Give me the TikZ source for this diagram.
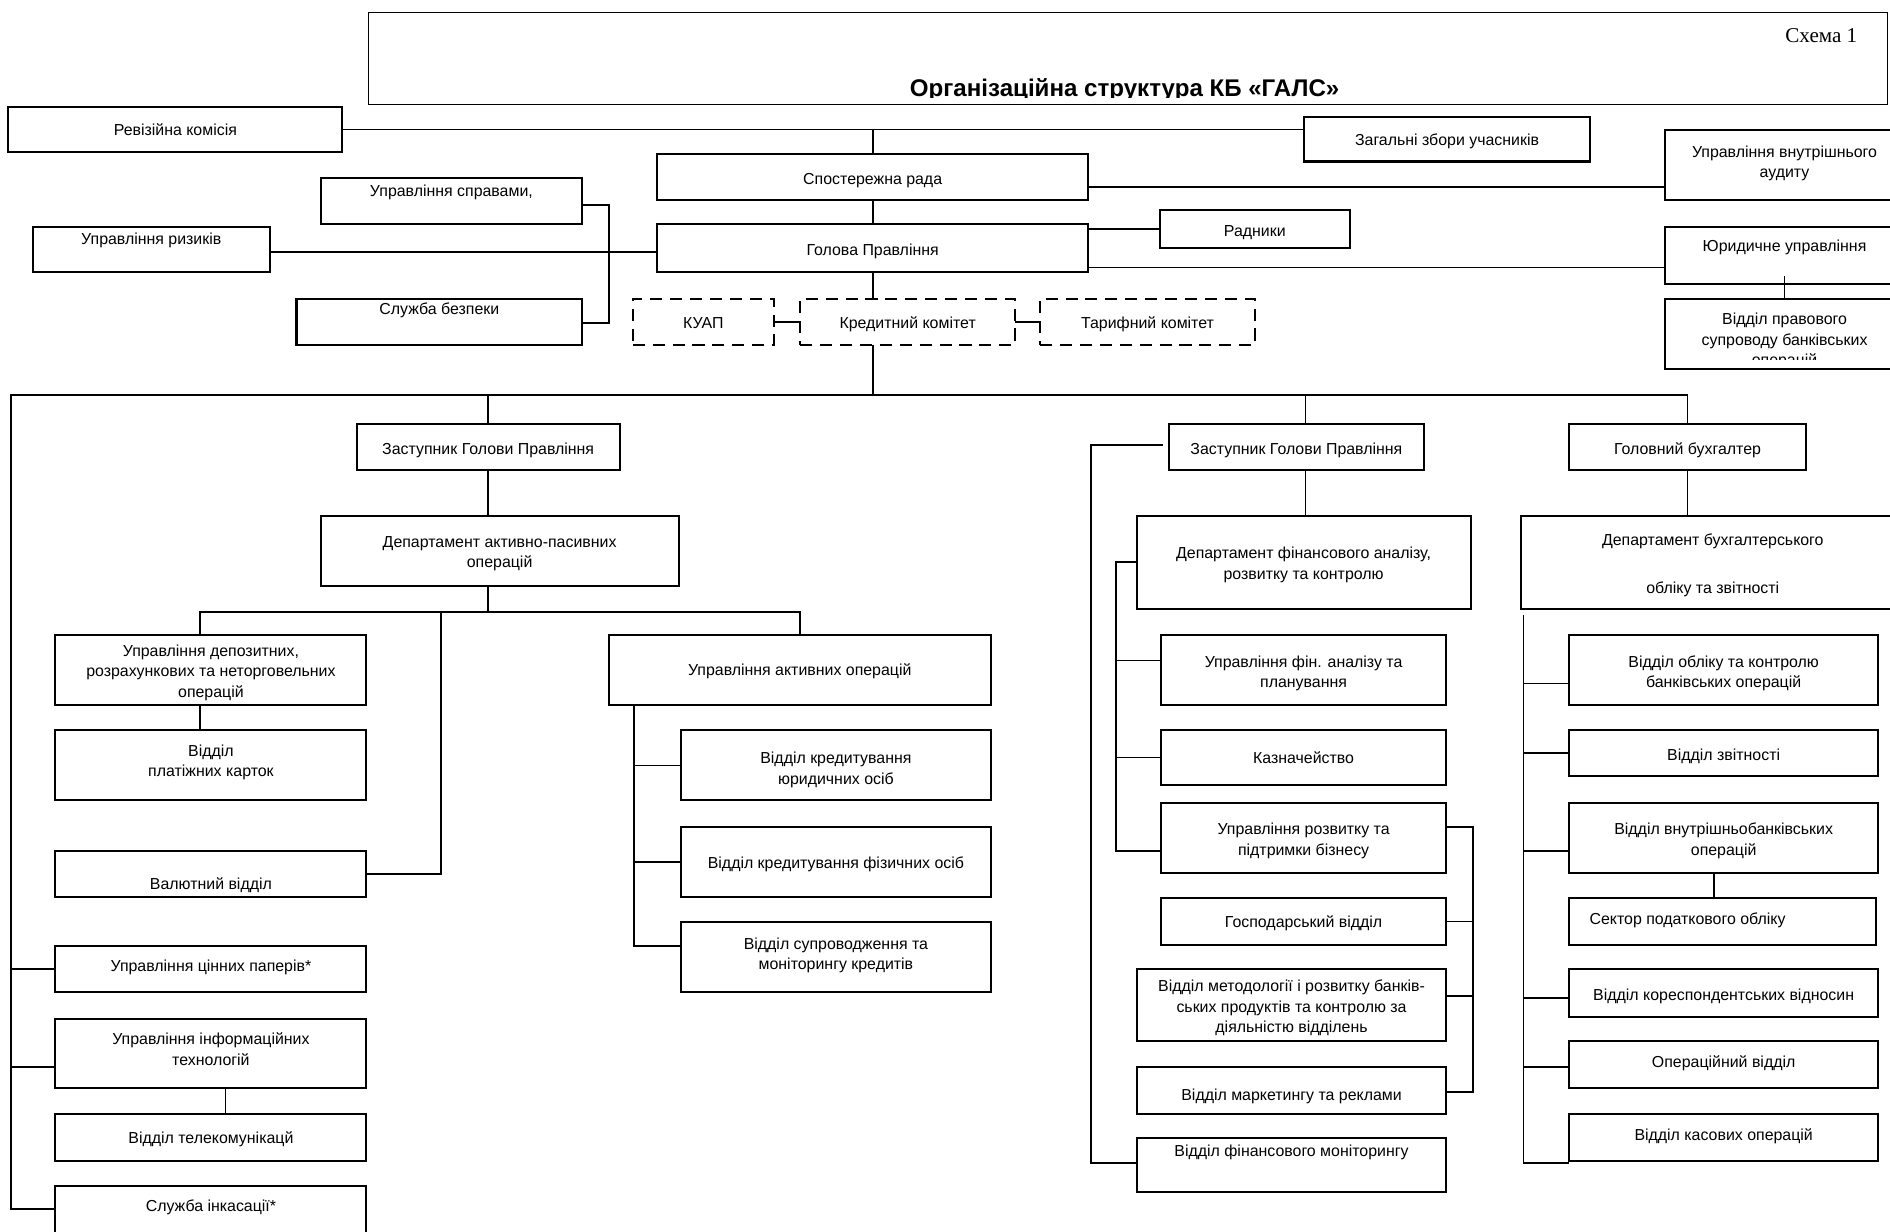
\documentclass[tikz,border=0pt]{standalone}
\usepackage{fontspec}
\setmainfont{Liberation Sans}
\newfontfamily\serifcap{Liberation Serif}
\newcommand\bx[8][box]{%
 \pgfmathsetmacro\bw{#5-#3}%
 \pgfmathsetmacro\bh{#6-#4}%
 \pgfmathsetmacro\bcx{(#3+#5)/2}%
 \pgfmathsetmacro\bty{#7-7.3}%
 \node[#1,minimum width=\bw pt,minimum height=\bh pt] (#2) at (#3,#4) {};
 \node[txt] (#2-t) at (\bcx,\bty) {#8};}
\begin{document}
\begin{tikzpicture}[x=1pt,y=-1pt,
  box/.style={draw,line width=1.7pt,anchor=north west,inner sep=0pt,outer sep=0pt},
  dbox/.style={box,dash pattern=on 10pt off 6.5pt},
  txt/.style={align=center,inner sep=0pt,anchor=north,font=\fontsize{13.2}{17}\selectfont,execute at begin node=\strut},
  ln/.style={line width=1.5pt}]
\useasboundingbox[fill=white] (0,0) rectangle (1568,1022);

% title
\node[box,line width=0.9pt,minimum width=1260pt,minimum height=77pt] (tbox) at (306,10) {};
\node[anchor=base east,inner sep=0pt,font=\serifcap\fontsize{17.5}{20}\selectfont] (schema) at (1541,35) {Схема 1};
\begin{scope}
\clip (307,11) rectangle (1565,81);
\node[anchor=base,inner sep=0pt,font=\bfseries\fontsize{20}{22}\selectfont] (ttl) at (933,80) {Організаційна структура КБ «ГАЛС»};
\end{scope}

% top level
\bx{rev}{7}{89}{284}{126}{108}{Ревізійна комісія}
\bx{zag}{1082}{97}{1319}{134}{116}{Загальні збори учасників}
\bx{spos}{545}{128}{903}{166}{148}{Спостережна рада}
\bx{audit}{1381}{108}{1580}{166}{128}{Управління внутрішнього\\аудиту}
\bx{sprav}{266}{148}{483}{186}{158}{Управління справами,}
\bx{riz}{27}{188}{224}{226}{198}{Управління ризиків}
\bx{gol}{545}{186}{903}{226}{207}{Голова Правління}
\bx{radn}{962}{174}{1120}{206}{191}{Радники}
\bx{yur}{1381}{188}{1580}{236}{204}{Юридичне управління}
\bx{sluzh}{246}{248}{483}{286}{256}{Служба безпеки}
\bx[dbox]{kuap}{525}{248}{642}{286}{268}{КУАП}
\bx[dbox]{kred}{664}{248}{842}{286}{268}{Кредитний комітет}
\bx[dbox]{tar}{863}{248}{1041}{286}{268}{Тарифний комітет}
\node[box,minimum width=199pt,minimum height=58pt] (prav) at (1381,248) {};
\begin{scope}
\clip (1382,249) rectangle (1579,298);
\node[txt] (prav-t) at (1480.5,259.7) {Відділ правового\\супроводу банківських\\операцій};
\end{scope}

% second level
\bx{zl}{296}{352}{514}{390}{372}{Заступник Голови Правління}
\bx{zr}{970}{352}{1181}{390}{372}{Заступник Голови Правління}
\bx{bux}{1302}{352}{1498}{390}{372}{Головний бухгалтер}
\bx{depap}{266}{428}{563}{486}{452}{Департамент активно-пасивних\\операцій}
\bx{depf}{943}{428}{1220}{505}{461}{Департамент фінансового аналізу,\\розвитку та контролю}
\bx{depb}{1262}{428}{1580}{505}{450}{Департамент бухгалтерського\\[23pt]обліку та звітності}

% left branch
\bx{dep}{46}{527}{304}{585}{542}{Управління депозитних,\\розрахункових та неторговельних\\операцій}
\bx{plat}{46}{606}{304}{664}{625}{Відділ\\платіжних карток}
\bx{val}{46}{706}{304}{744}{733}{Валютний відділ}
\bx{cin}{46}{785}{304}{823}{801}{Управління цінних паперів*}
\bx{it}{46}{845}{304}{903}{864}{Управління інформаційних\\технологій}
\bx{tel}{46}{924}{304}{963}{944}{Відділ телекомунікацй}
\bx{insk}{46}{984}{304}{1030}{1000}{Служба інкасації*}
\bx{akt}{505}{527}{822}{585}{556}{Управління активних операцій}
\bx{kyur}{565}{606}{822}{664}{631}{Відділ кредитування\\юридичних осіб}
\bx{kfiz}{565}{686}{822}{744}{716}{Відділ кредитування фізичних осіб}
\bx{sup}{565}{765}{822}{823}{785}{Відділ супроводження та\\моніторингу кредитів}

% right deputy
\bx{ufin}{963}{527}{1200}{585}{551}{Управління фін. аналізу та\\планування}
\bx{kaz}{963}{606}{1200}{651}{629}{Казначейство}
\bx{urozv}{963}{666}{1200}{724}{690}{Управління розвитку та\\підтримки бізнесу}
\bx{gosp}{963}{745}{1200}{784}{765}{Господарський відділ}
\bx{metod}{943}{804}{1200}{864}{820}{Відділ методології і розвитку банків-\\ських продуктів та контролю за\\діяльністю відділень}
\bx{mark}{943}{885}{1200}{924}{908}{Відділ маркетингу та реклами}
\bx{fmon}{943}{944}{1200}{989}{955}{Відділ фінансового моніторингу}

% accountant
\bx{obl}{1302}{527}{1558}{585}{551}{Відділ обліку та контролю\\банківських операцій}
\bx{zvit}{1302}{606}{1558}{644}{626}{Відділ звітності}
\bx{vnutr}{1302}{666}{1558}{724}{690}{Відділ внутрішньобанківських\\операцій}
\node[box,minimum width=254pt,minimum height=39pt] (sekt) at (1302,745) {};
\node[txt] (sekt-t) at (1400,754.7) {Сектор податкового обліку};
\bx{kor}{1302}{804}{1558}{844}{825}{Відділ кореспондентських відносин}
\bx{oper}{1302}{864}{1558}{903}{881}{Операційний відділ}
\bx{kas}{1302}{924}{1558}{963}{941}{Відділ касових операцій}

% connectors top
\draw[ln] (rev.east) -- (zag.west |- rev.east);
\draw[ln] (spos.north) -- (spos.north |- rev.east);
\draw[ln] (spos.south) -- (gol.north);
\draw[ln] (spos.east |- 0,155) -- (audit.west |- 0,155);
\draw[ln] (gol.east |- radn.west) -- (radn.west);
\draw[ln] (gol.east |- 0,222) -- (yur.west |- 0,222);
\draw[ln] ([yshift=7pt]yur.south) -- (prav.north);
\draw[ln] (riz.east |- 0,209) -- (gol.west |- 0,209);
\draw[ln] (sprav.east |- 0,170) -- ++(22,0) |- (sluzh.east |- 0,268);
\draw[ln] (gol.south) -- (gol.south |- kred.north);
\draw[ln] (kuap.east) -- (kred.west);
\draw[ln] (kred.east) -- (tar.west);
\draw[ln] (gol.south |- kred.south) -- (gol.south |- 0,328);

% main bus
\coordinate (busL) at (9,328);
\draw[ln] (bux.north) -- (bux.north |- busL) -- (busL) |- (insk.west |- 0,1003);
\draw[ln] (busL |- cin.west) -- (cin.west);
\draw[ln] (busL |- 0,885) -- (it.west |- 0,885);
\draw[ln] (zl.north) -- (zl.north |- busL);
\draw[ln] (zr.north -| 1083,0) -- (1083,328);

% left deputy
\draw[ln] (zl.south) -- (zl.south |- depap.north);
\draw[ln] (zl.south |- depap.south) -- (zl.south |- 0,508);
\draw[ln] (dep.north -| 166,0) -- (166,508) -- (akt.north |- 0,508) -- (akt.north);
\draw[ln] (366,508) |- (val.east);
\draw[ln] (dep.south -| 166,0) -- (plat.north -| 166,0);
\draw[ln] (akt.south -| 526,0) |- (sup.west |- 0,785);
\draw[ln] (kyur.west -| 526,0) -- (kyur.west);
\draw[ln] (kfiz.west -| 526,0) -- (kfiz.west);
\draw[ln] (it.south -| 187,0) -- (tel.north -| 187,0);

% right deputy
\coordinate (zrL) at (965,369);
\draw[ln] (zrL) -- (905,369) |- (fmon.west |- 0,965);
\draw[ln] (zr.south -| 1083,0) -- (depf.north -| 1083,0);
\draw[ln] (depf.west) -- (depf.west -| 926,0) |- (urozv.west |- 0,706);
\draw[ln] (926,548) -- (ufin.west |- 0,548);
\draw[ln] (kaz.west -| 926,0) -- (kaz.west);
\draw[ln] (urozv.east |- 0,686) -- (1222,686) |- (mark.east |- 0,906);
\draw[ln] (gosp.east) -- (gosp.east -| 1222,0);
\draw[ln] (metod.east |- 0,826) -- (1222,826);

% accountant
\draw[ln] (bux.south) -- (bux.south |- depb.north);
\draw[ln] (1264,510) |- (kas.west |- 0,965);
\draw[ln] (1264,567) -- (obl.west |- 0,567);
\draw[ln] (zvit.west -| 1264,0) -- (zvit.west);
\draw[ln] (1264,706) -- (vnutr.west |- 0,706);
\draw[ln] (1264,828) -- (kor.west |- 0,828);
\draw[ln] (1264,885) -- (oper.west |- 0,885);
\draw[ln] (vnutr.south -| 1422,0) -- (sekt.north -| 1422,0);
\end{tikzpicture}
\end{document}
